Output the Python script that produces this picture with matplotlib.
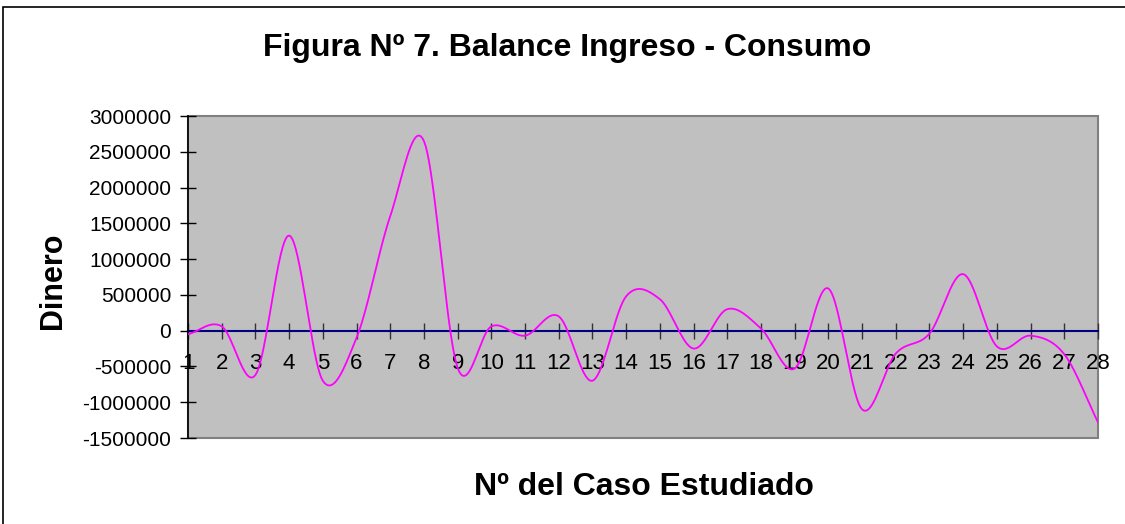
import numpy as np
import matplotlib
matplotlib.use("Agg")
import matplotlib.pyplot as plt
from matplotlib.patches import Rectangle

# ---------------- data ----------------
casos = list(range(1, 29))
balance = [-50000, 60000, -620000, 1330000, -700000, -100000, 1600000, 2650000,
           -520000, 60000, -70000, 200000, -700000, 480000, 440000, -250000,
           300000, 30000, -530000, 590000, -1100000, -320000, -40000, 790000,
           -220000, -70000, -330000, -1280000]
y_ticks = list(range(-1500000, 3000001, 500000))


def smooth_line(x, y, steps=20):
    # Excel-like smoothed line (Catmull-Rom through every point)
    x = np.asarray(x, float)
    y = np.asarray(y, float)
    px = np.concatenate([[2 * x[0] - x[1]], x, [2 * x[-1] - x[-2]]])
    py = np.concatenate([[2 * y[0] - y[1]], y, [2 * y[-1] - y[-2]]])
    xs, ys = [], []
    t = np.linspace(0, 1, steps, endpoint=False)
    for i in range(1, len(px) - 2):
        for p, out in ((px, xs), (py, ys)):
            p0, p1, p2, p3 = p[i - 1], p[i], p[i + 1], p[i + 2]
            out.extend(0.5 * ((2 * p1) + (-p0 + p2) * t
                              + (2 * p0 - 5 * p1 + 4 * p2 - p3) * t ** 2
                              + (-p0 + 3 * p1 - 3 * p2 + p3) * t ** 3))
    xs.append(x[-1])
    ys.append(y[-1])
    return np.array(xs), np.array(ys)


plt.rcParams['font.family'] = ['Liberation Sans', 'DejaVu Sans']

W, H = 1125, 524
fig = plt.figure(figsize=(W / 100, H / 100), dpi=100)

# outer chart border (top and left visible)
fig.patches.append(Rectangle((3 / W, -0.1), 1.2, 1 - 7 / H + 0.1,
                             transform=fig.transFigure, fill=False,
                             edgecolor='black', linewidth=1.2))

ax = fig.add_axes([188 / W, 1 - 438 / H, (1098 - 188) / W, (438 - 116) / H])
ax.patch.set_facecolor('#C0C0C0')
ax.patch.set_edgecolor('#808080')
ax.patch.set_linewidth(1.5)

sx, sy = smooth_line(casos, balance)
ax.plot(sx, sy, color='#FF00FF', linewidth=1.3, zorder=3)

ax.set_xlim(1, 28)
ax.set_ylim(-1500000, 3000000)

ax.spines['top'].set_visible(False)
ax.spines['right'].set_visible(False)
ax.spines['left'].set_color('black')
ax.spines['left'].set_linewidth(1.2)
ax.spines['bottom'].set_position(('data', 0))
ax.spines['bottom'].set_color('#000080')
ax.spines['bottom'].set_linewidth(1.5)
ax.spines['bottom'].set_zorder(2)

ax.set_xticks(casos)
ax.set_xticklabels([str(c) for c in casos])
ax.set_yticks(y_ticks)
ax.set_yticklabels([str(v) for v in y_ticks])
ax.tick_params(axis='x', direction='inout', length=12, width=1, color='#333333',
               labelsize=16, pad=10)
ax.tick_params(axis='y', direction='inout', length=12, width=1, color='black',
               labelsize=15, pad=6)

fig.text(567 / W, 1 - 48 / H, 'Figura Nº 7. Balance Ingreso - Consumo',
         ha='center', va='center', fontsize=23, fontweight='bold')
fig.text(644 / W, 1 - 487 / H, 'Nº del Caso Estudiado',
         ha='center', va='center', fontsize=23, fontweight='bold')
fig.text(53 / W, 1 - 281 / H, 'Dinero', rotation=90,
         ha='center', va='center', fontsize=22, fontweight='bold')

fig.savefig('out.png', dpi=100, facecolor='white')
